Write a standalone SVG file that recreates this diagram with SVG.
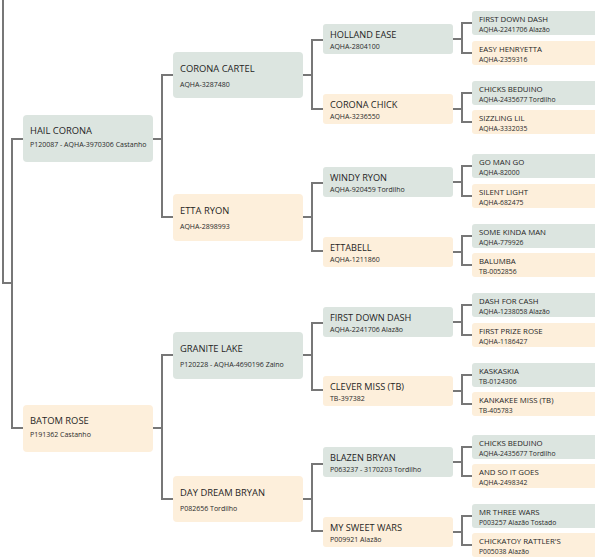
<svg xmlns="http://www.w3.org/2000/svg" width="595" height="559" viewBox="0 0 595 559">
<style>
.g{fill:#dce5e0}
.p{fill:#fdefdb}
text{font-family:"Open Sans","Noto Sans","Liberation Sans",sans-serif;fill:#1f1f1f}
.t1{font-size:9.4px}
.s1{font-size:7px;fill:#2a2a2a}
.t3{font-size:9.2px}
.t4{font-size:7.8px}
.s4{font-size:6.8px;fill:#2a2a2a}
#connectors path{fill:none;stroke:#777;stroke-width:2}
</style>
<rect width="595" height="559" fill="#fff"/>
<g id="connectors">
<path d="M3,0 V283 H12"/>
<path d="M23,139 H12 V428 H23"/>
<path d="M153,139 H162"/>
<path d="M173,75 H162 V217 H173"/>
<path d="M153,428 H162"/>
<path d="M173,355 H162 V499 H173"/>
<path d="M303,75 H312"/>
<path d="M323,40 H312 V109 H323"/>
<path d="M303,217 H312"/>
<path d="M323,183 H312 V251 H323"/>
<path d="M303,355 H312"/>
<path d="M323,323 H312 V390 H323"/>
<path d="M303,499 H312"/>
<path d="M323,464 H312 V531 H323"/>
<path d="M453,39 H462"/><path d="M472,23 H462 V53 H472"/>
<path d="M453,109 H462"/><path d="M472,93 H462 V122 H472"/>
<path d="M453,182 H462"/><path d="M472,166 H462 V196 H472"/>
<path d="M453,252 H462"/><path d="M472,236 H462 V265 H472"/>
<path d="M453,322 H462"/><path d="M472,305 H462 V335 H472"/>
<path d="M453,391 H462"/><path d="M472,375 H462 V404 H472"/>
<path d="M453,462 H462"/><path d="M472,447 H462 V476 H472"/>
<path d="M453,532 H462"/><path d="M472,516 H462 V545 H472"/>
</g>
<g id="hail-corona"><rect class="g" x="23" y="115" width="130" height="47" rx="4"/><text class="t1" x="30" y="134">HAIL CORONA</text><text class="s1" x="30" y="147">P120087 - AQHA-3970306 Castanho</text></g>
<g id="batom-rose"><rect class="p" x="23" y="405" width="130" height="47" rx="4"/><text class="t1" x="30" y="424">BATOM ROSE</text><text class="s1" x="30" y="437">P191362 Castanho</text></g>
<g id="corona-cartel"><rect class="g" x="173" y="52" width="130" height="46" rx="4"/><text class="t1" x="180" y="72">CORONA CARTEL</text><text class="s1" x="180" y="87">AQHA-3287480</text></g>
<g id="etta-ryon"><rect class="p" x="173" y="194" width="130" height="47" rx="4"/><text class="t1" x="180" y="214">ETTA RYON</text><text class="s1" x="180" y="229">AQHA-2898993</text></g>
<g id="granite-lake"><rect class="g" x="173" y="332" width="130" height="47" rx="4"/><text class="t1" x="180" y="352">GRANITE LAKE</text><text class="s1" x="180" y="367">P120228 - AQHA-4690196 Zaino</text></g>
<g id="day-dream-bryan"><rect class="p" x="173" y="476" width="130" height="46" rx="4"/><text class="t1" x="180" y="496">DAY DREAM BRYAN</text><text class="s1" x="180" y="511">P082656 Tordilho</text></g>
<g id="holland-ease"><rect class="g" x="323" y="24" width="130" height="30" rx="3"/><text class="t3" x="330" y="38">HOLLAND EASE</text><text class="s1" x="330" y="48.5">AQHA-2804100</text></g>
<g id="corona-chick"><rect class="p" x="323" y="94" width="130" height="30" rx="3"/><text class="t3" x="330" y="108">CORONA CHICK</text><text class="s1" x="330" y="118.5">AQHA-3236550</text></g>
<g id="windy-ryon"><rect class="g" x="323" y="167" width="130" height="30" rx="3"/><text class="t3" x="330" y="181">WINDY RYON</text><text class="s1" x="330" y="191.5">AQHA-920459 Tordilho</text></g>
<g id="ettabell"><rect class="p" x="323" y="237" width="130" height="30" rx="3"/><text class="t3" x="330" y="251">ETTABELL</text><text class="s1" x="330" y="261.5">AQHA-1211860</text></g>
<g id="first-down-dash-3"><rect class="g" x="323" y="307" width="130" height="30" rx="3"/><text class="t3" x="330" y="321">FIRST DOWN DASH</text><text class="s1" x="330" y="331.5">AQHA-2241706 Alazão</text></g>
<g id="clever-miss"><rect class="p" x="323" y="376" width="130" height="30" rx="3"/><text class="t3" x="330" y="390">CLEVER MISS (TB)</text><text class="s1" x="330" y="400.5">TB-397382</text></g>
<g id="blazen-bryan"><rect class="g" x="323" y="447" width="130" height="30" rx="3"/><text class="t3" x="330" y="461">BLAZEN BRYAN</text><text class="s1" x="330" y="471.5">P063237 - 3170203 Tordilho</text></g>
<g id="my-sweet-wars"><rect class="p" x="323" y="517" width="130" height="30" rx="3"/><text class="t3" x="330" y="531">MY SWEET WARS</text><text class="s1" x="330" y="541.5">P009921 Alazão</text></g>
<g id="first-down-dash-4"><rect class="g" x="472" y="11" width="135" height="24" rx="3"/><text class="t4" x="479" y="22">FIRST DOWN DASH</text><text class="s4" x="479" y="32">AQHA-2241706 Alazão</text></g>
<g id="easy-henryetta"><rect class="p" x="472" y="41" width="135" height="24" rx="3"/><text class="t4" x="479" y="52">EASY HENRYETTA</text><text class="s4" x="479" y="62">AQHA-2359316</text></g>
<g id="chicks-beduino-1"><rect class="g" x="472" y="81" width="135" height="24" rx="3"/><text class="t4" x="479" y="92">CHICKS BEDUINO</text><text class="s4" x="479" y="102">AQHA-2435677 Tordilho</text></g>
<g id="sizzling-lil"><rect class="p" x="472" y="110" width="135" height="24" rx="3"/><text class="t4" x="479" y="121">SIZZLING LIL</text><text class="s4" x="479" y="131">AQHA-3332035</text></g>
<g id="go-man-go"><rect class="g" x="472" y="154" width="135" height="24" rx="3"/><text class="t4" x="479" y="165">GO MAN GO</text><text class="s4" x="479" y="175">AQHA-82000</text></g>
<g id="silent-light"><rect class="p" x="472" y="184" width="135" height="24" rx="3"/><text class="t4" x="479" y="195">SILENT LIGHT</text><text class="s4" x="479" y="205">AQHA-682475</text></g>
<g id="some-kinda-man"><rect class="g" x="472" y="224" width="135" height="24" rx="3"/><text class="t4" x="479" y="235">SOME KINDA MAN</text><text class="s4" x="479" y="245">AQHA-779926</text></g>
<g id="balumba"><rect class="p" x="472" y="253" width="135" height="24" rx="3"/><text class="t4" x="479" y="264">BALUMBA</text><text class="s4" x="479" y="274">TB-0052856</text></g>
<g id="dash-for-cash"><rect class="g" x="472" y="293" width="135" height="24" rx="3"/><text class="t4" x="479" y="304">DASH FOR CASH</text><text class="s4" x="479" y="314">AQHA-1238058 Alazão</text></g>
<g id="first-prize-rose"><rect class="p" x="472" y="323" width="135" height="24" rx="3"/><text class="t4" x="479" y="334">FIRST PRIZE ROSE</text><text class="s4" x="479" y="344">AQHA-1186427</text></g>
<g id="kaskaskia"><rect class="g" x="472" y="363" width="135" height="24" rx="3"/><text class="t4" x="479" y="374">KASKASKIA</text><text class="s4" x="479" y="384">TB-0124306</text></g>
<g id="kankakee-miss"><rect class="p" x="472" y="392" width="135" height="24" rx="3"/><text class="t4" x="479" y="403">KANKAKEE MISS (TB)</text><text class="s4" x="479" y="413">TB-405783</text></g>
<g id="chicks-beduino-2"><rect class="g" x="472" y="435" width="135" height="24" rx="3"/><text class="t4" x="479" y="446">CHICKS BEDUINO</text><text class="s4" x="479" y="456">AQHA-2435677 Tordilho</text></g>
<g id="and-so-it-goes"><rect class="p" x="472" y="464" width="135" height="24" rx="3"/><text class="t4" x="479" y="475">AND SO IT GOES</text><text class="s4" x="479" y="485">AQHA-2498342</text></g>
<g id="mr-three-wars"><rect class="g" x="472" y="504" width="135" height="24" rx="3"/><text class="t4" x="479" y="515">MR THREE WARS</text><text class="s4" x="479" y="525">P003257 Alazão Tostado</text></g>
<g id="chickatoy-rattlers"><rect class="p" x="472" y="533" width="135" height="24" rx="3"/><text class="t4" x="479" y="544">CHICKATOY RATTLER'S</text><text class="s4" x="479" y="554">P005038 Alazão</text></g>
</svg>
